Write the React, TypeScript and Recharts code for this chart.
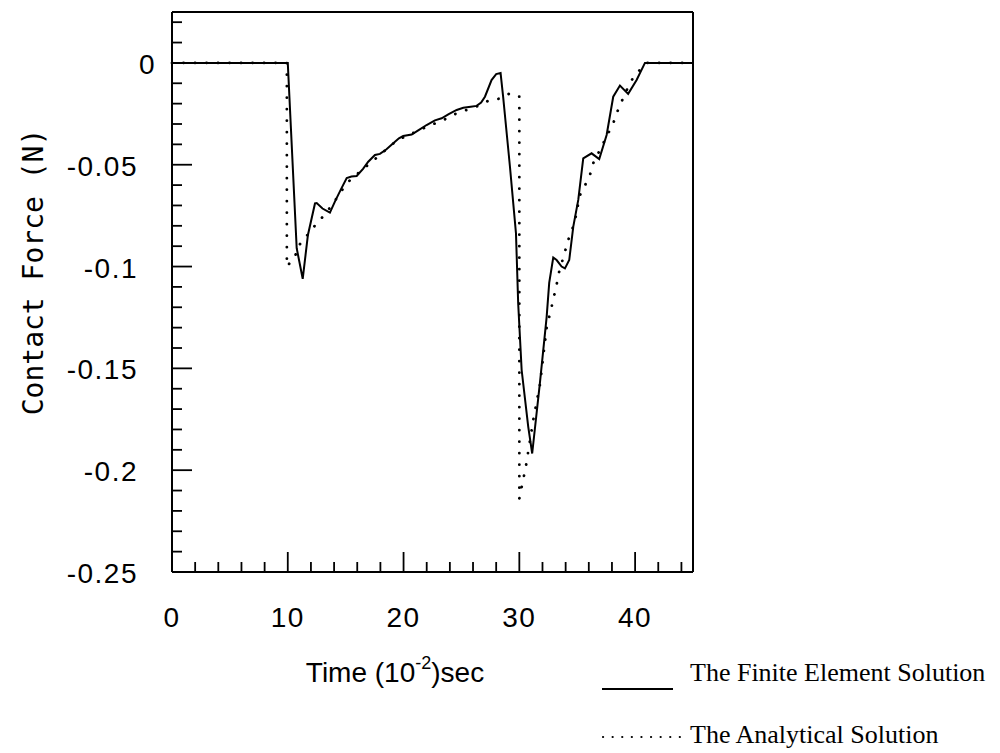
import React from 'react';
import { LineChart, Line, XAxis, YAxis } from 'recharts';

// Finite Element Solution (time in 10^-2 s, force in N)
const FE_TIME = [0, 10.0, 10.77, 11.29, 11.74, 12.35, 12.5, 13.0, 13.64, 14.08, 14.6, 15.09, 15.5, 15.95, 16.5, 16.95, 17.53, 17.96, 18.5, 19.11, 19.6, 19.97, 20.7, 21.3, 21.99, 22.71, 23.29, 23.9, 24.59, 25.16, 25.8, 26.31, 26.7, 27.03, 27.6, 28.0, 28.38, 28.6, 29.19, 29.71, 29.9, 30.2, 30.77, 31.11, 31.78, 32.36, 32.58, 32.93, 33.22, 33.65, 33.94, 34.31, 34.66, 35.09, 35.52, 36.24, 36.9, 37.54, 38.11, 38.69, 39.4, 40.13, 40.85, 45];
const FE_FORCE = [0, 0, -0.091, -0.106, -0.0845, -0.069, -0.0688, -0.0715, -0.0735, -0.068, -0.062, -0.0565, -0.0558, -0.0555, -0.052, -0.0485, -0.0452, -0.0447, -0.0425, -0.0395, -0.037, -0.0359, -0.0352, -0.033, -0.0305, -0.0282, -0.0272, -0.0252, -0.0231, -0.022, -0.0215, -0.0211, -0.0195, -0.0166, -0.0084, -0.0055, -0.005, -0.0166, -0.051, -0.0837, -0.118, -0.1508, -0.1787, -0.1918, -0.157, -0.1247, -0.108, -0.0956, -0.0968, -0.1, -0.1009, -0.0968, -0.0804, -0.0673, -0.0469, -0.0444, -0.0472, -0.0354, -0.0166, -0.0111, -0.0152, -0.0084, 0, 0];

// Analytical Solution
const AN_TIME = [0, 9.92, 9.92, 10.62, 10.9, 11.5, 12.06, 12.78, 13.8, 15.09, 16.1, 17.17, 18.3, 19.46, 20.8, 22.13, 23.3, 24.5, 25.5, 26.5, 27.46, 28.47, 29.19, 29.82, 30.0, 30.0, 30.57, 30.72, 31.2, 31.78, 32.36, 32.79, 33.22, 33.36, 33.94, 34.22, 34.6, 34.95, 35.17, 35.66, 36.1, 36.4, 37.2, 38.11, 38.4, 38.83, 39.6, 40.27, 41.0, 45];
const AN_FORCE = [0, 0, -0.1, -0.0952, -0.09, -0.086, -0.0817, -0.0772, -0.07, -0.0591, -0.054, -0.049, -0.0435, -0.0379, -0.0345, -0.031, -0.0285, -0.025, -0.023, -0.021, -0.0182, -0.0174, -0.0149, -0.0166, -0.0166, -0.214, -0.198, -0.1926, -0.1754, -0.158, -0.13, -0.1197, -0.109, -0.1042, -0.0927, -0.087, -0.0812, -0.0739, -0.0657, -0.0603, -0.055, -0.049, -0.04, -0.0297, -0.0248, -0.019, -0.0092, -0.0043, 0, 0];

const X_TICKS = [0, 2, 4, 6, 8, 10, 12, 14, 16, 18, 20, 22, 24, 26, 28, 30, 32, 34, 36, 38, 40, 42, 44];
const X_MAJOR = [0, 10, 20, 30, 40];
const Y_TICKS = [-0.25, -0.24, -0.23, -0.22, -0.21, -0.2, -0.19, -0.18, -0.17, -0.16, -0.15, -0.14, -0.13, -0.12, -0.11, -0.1, -0.09, -0.08, -0.07, -0.06, -0.05, -0.04, -0.03, -0.02, -0.01, 0, 0.01, 0.02];
const Y_MAJOR = [0, -0.05, -0.1, -0.15, -0.2, -0.25];

const X_DOMAIN = [0, 45];
const Y_DOMAIN = [-0.25, 0.025];

const feData = FE_TIME.map((t, i) => ({ t, v: FE_FORCE[i] }));
const anData = AN_TIME.map((t, i) => ({ t, v: AN_FORCE[i] }));

const SANS = '"Liberation Sans", Arial, Helvetica, sans-serif';
const MAJOR_LEN = 20;
const MINOR_LEN = 10;
const TICK_W = 1.8;

const isMajorX = (v: number) => X_MAJOR.some((m) => Math.abs(m - v) < 1e-9);
const isMajorY = (v: number) => Y_MAJOR.some((m) => Math.abs(m - v) < 1e-9);

const BottomTick = (props: any) => {
  const { x, y, payload } = props;
  const major = isMajorX(payload.value);
  return (
    <g>
      <line x1={x} y1={y} x2={x} y2={y - (major ? MAJOR_LEN : MINOR_LEN)} stroke="#000" strokeWidth={TICK_W} />
      {major && (
        <text x={x} y={y + 55} textAnchor="middle" fontFamily={SANS} fontSize={28} letterSpacing={1.5} fill="#000">
          {String(payload.value)}
        </text>
      )}
    </g>
  );
};

const TopTick = (props: any) => {
  const { x, y, payload } = props;
  const major = isMajorX(payload.value);
  return <line x1={x} y1={y} x2={x} y2={y + (major ? MAJOR_LEN : MINOR_LEN)} stroke="#000" strokeWidth={TICK_W} />;
};

const LeftTick = (props: any) => {
  const { x, y, payload } = props;
  const major = isMajorY(payload.value);
  const isZero = Math.abs(payload.value) < 1e-9;
  return (
    <g>
      <line x1={x} y1={y} x2={x + (major ? MAJOR_LEN : MINOR_LEN)} y2={y} stroke="#000" strokeWidth={TICK_W} />
      {major && (
        <text
          x={x - (isZero ? 16 : 34)}
          y={y + 11}
          textAnchor="end"
          fontFamily={SANS}
          fontSize={28}
          letterSpacing={1.5}
          fill="#000"
        >
          {String(payload.value)}
        </text>
      )}
    </g>
  );
};

const RightTick = (props: any) => {
  const { x, y, payload } = props;
  const major = isMajorY(payload.value);
  return <line x1={x} y1={y} x2={x - (major ? MAJOR_LEN : MINOR_LEN)} y2={y} stroke="#000" strokeWidth={TICK_W} />;
};

const axisLine = { stroke: '#000', strokeWidth: 2 };

export default function App() {
  return (
    <div style={{ position: 'absolute', left: 0, top: 0, width: 1000, height: 753, background: '#fff' }}>
      <LineChart width={1000} height={753} margin={{ top: 11, right: 306, bottom: 121, left: 72 }}>
        <XAxis
          xAxisId="b"
          orientation="bottom"
          type="number"
          dataKey="t"
          domain={X_DOMAIN}
          ticks={X_TICKS}
          interval={0}
          height={60}
          tickSize={0}
          tickMargin={0}
          tickLine={false}
          axisLine={axisLine}
          tick={<BottomTick />}
        />
        <XAxis
          xAxisId="top"
          orientation="top"
          type="number"
          dataKey="t"
          domain={X_DOMAIN}
          ticks={X_TICKS}
          interval={0}
          height={1}
          tickSize={0}
          tickMargin={0}
          tickLine={false}
          axisLine={axisLine}
          tick={<TopTick />}
        />
        <YAxis
          yAxisId="l"
          orientation="left"
          type="number"
          dataKey="v"
          domain={Y_DOMAIN}
          ticks={Y_TICKS}
          interval={0}
          width={100}
          tickSize={0}
          tickMargin={0}
          tickLine={false}
          axisLine={axisLine}
          tick={<LeftTick />}
        />
        <YAxis
          yAxisId="r"
          orientation="right"
          type="number"
          dataKey="v"
          domain={Y_DOMAIN}
          ticks={Y_TICKS}
          interval={0}
          width={1}
          tickSize={0}
          tickMargin={0}
          tickLine={false}
          axisLine={axisLine}
          tick={<RightTick />}
        />
        <Line
          xAxisId="b"
          yAxisId="l"
          data={feData}
          dataKey="v"
          type="linear"
          stroke="#000"
          strokeWidth={2}
          dot={false}
          activeDot={false}
          isAnimationActive={false}
        />
        <Line
          xAxisId="b"
          yAxisId="l"
          data={anData}
          dataKey="v"
          type="linear"
          stroke="#000"
          strokeWidth={2.8}
          strokeDasharray="0.1 11.4"
          strokeLinecap="round"
          dot={false}
          activeDot={false}
          isAnimationActive={false}
        />
      </LineChart>
      <svg
        width={1000}
        height={753}
        style={{ position: 'absolute', left: 0, top: 0, pointerEvents: 'none' }}
      >
        <text
          x={43}
          y={272}
          transform="rotate(-90 43 272)"
          textAnchor="middle"
          fontFamily='"DejaVu Sans Mono", "Liberation Mono", monospace'
          fontSize={28}
          fill="#000"
        >
          Contact Force (N)
        </text>
        <text x={395} y={682} textAnchor="middle" fontFamily={SANS} fontSize={28} fill="#000">
          Time (10
          <tspan fontSize={18} dy={-13}>-2</tspan>
          <tspan dy={13}>)sec</tspan>
        </text>
        <line x1={602} y1={689} x2={673} y2={689} stroke="#000" strokeWidth={2} />
        <text x={690} y={681} fontFamily='"Liberation Serif", "Times New Roman", serif' fontSize={26} fill="#000">
          The Finite Element Solution
        </text>
        <line
          x1={603}
          y1={737}
          x2={680}
          y2={737}
          stroke="#000"
          strokeWidth={2.2}
          strokeDasharray="0.1 9.5"
          strokeLinecap="round"
        />
        <text x={690} y={743} fontFamily='"Liberation Serif", "Times New Roman", serif' fontSize={26} fill="#000">
          The Analytical Solution
        </text>
      </svg>
    </div>
  );
}
